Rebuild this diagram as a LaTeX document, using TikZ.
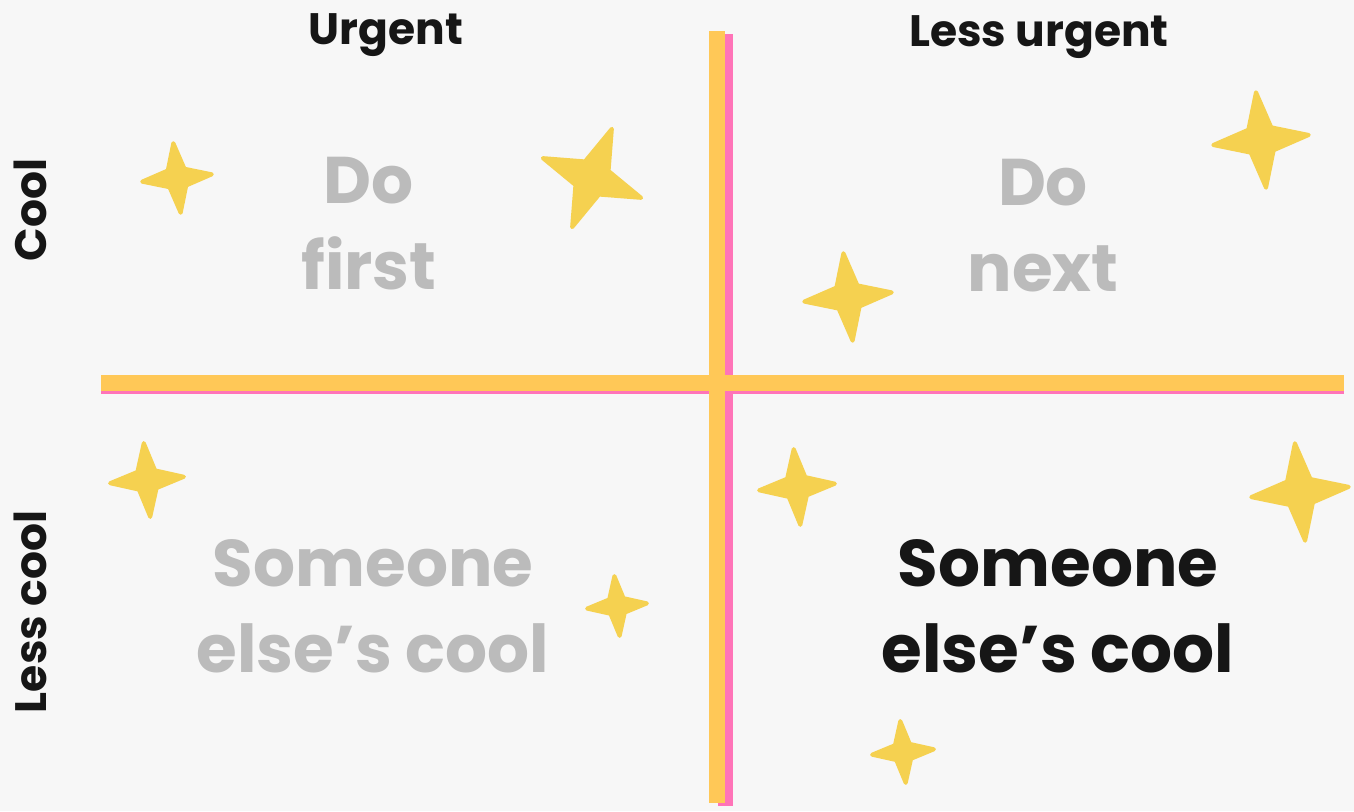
\documentclass[tikz,border=0pt]{standalone}
\usepackage{fontspec}
\setmainfont{Poppins}
\usepackage{tikz}
\definecolor{bgpaper}{HTML}{F7F7F7}
\definecolor{axisyellow}{HTML}{FFC857}
\definecolor{axispink}{HTML}{FF74B8}
\definecolor{sparkyellow}{HTML}{F5D150}
\definecolor{fadedgray}{HTML}{BBBBBB}
\definecolor{inkblack}{HTML}{161616}

\begin{document}
\begin{tikzpicture}[x=1pt,y=1pt,
 sparkle/.style={fill=sparkyellow,draw=sparkyellow,line width=4pt,line join=round},
 axisband/.style={fill=axisyellow},
 axisshadow/.style={fill=axispink},
 headlabel/.style={font=\fontsize{44}{50}\selectfont\bfseries,text=inkblack,inner sep=0pt},
 quadlabel/.style={font=\fontsize{66}{86}\selectfont\bfseries,align=center,inner sep=0pt}]

\useasboundingbox (0,0) rectangle (1354,811);
\fill[bgpaper] (0,0) rectangle (1354,811);

% Axes: pink shadow first, yellow band on top.
\fill[axisshadow] (101,417) rectangle (1344,433);
\fill[axisshadow] (718,5) rectangle (733,777);
\fill[axisband] (101,420) rectangle (1344,436);
\fill[axisband] (709,8) rectangle (725,780);

% Sparkles: x/y/radius/rotation.
\foreach \x/\y/\r/\a in {177/633/35/6,592/633/53/-22,1261/671/48/6,848/514/44/6,147/331/37/5,617/205/30/5,797/324/38/5,1300/319/49/6,903/59/31/5}
 \filldraw[sparkle,shift={(\x,\y)},rotate=\a] (\r,0) -- (0.24*\r,0.24*\r) -- (0,\r) -- (-0.24*\r,0.24*\r)
  -- (-\r,0) -- (-0.24*\r,-0.24*\r) -- (0,-\r) -- (0.24*\r,-0.24*\r) -- cycle;

% Column and row headings.
\node[headlabel,anchor=base] (urgent) at (386,766) {Urgent};
\node[headlabel,anchor=base] (lessurgent) at (1039,764) {Less urgent};
\node[headlabel,anchor=base,rotate=90] (cool) at (46,601) {Cool};
\node[headlabel,anchor=base,rotate=90] (lesscool) at (46,199) {Less cool};

% Quadrant labels.
\node[quadlabel,text=fadedgray] (dofirst) at (369,587) {Do\\first};
\node[quadlabel,text=fadedgray] (donext) at (1043,585) {Do\\next};
\node[quadlabel,text=fadedgray] (elsegray) at (373,205) {Someone\\else’s cool};
\node[quadlabel,text=inkblack] (elseblack) at (1058,205) {Someone\\else’s cool};
\end{tikzpicture}
\end{document}
